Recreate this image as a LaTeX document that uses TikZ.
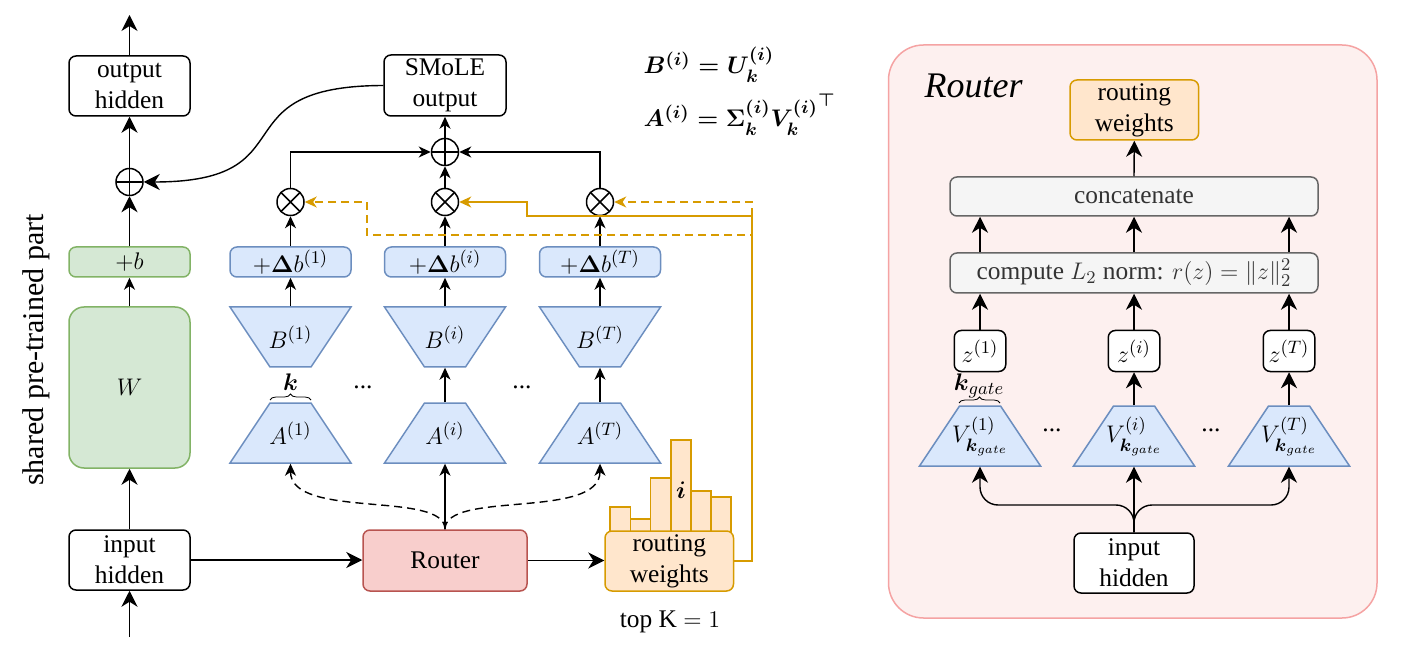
\documentclass[tikz,border=0pt]{standalone}
\usepackage[no-math]{fontspec}
\setmainfont{Liberation Serif}
\usepackage{amsmath,amssymb}
\usetikzlibrary{arrows.meta,decorations.pathreplacing,calc}
\definecolor{bfill}{HTML}{DAE8FC}
\definecolor{bdraw}{HTML}{6C8EBF}
\definecolor{gfill}{HTML}{D5E8D4}
\definecolor{gdraw}{HTML}{82B366}
\definecolor{rfill}{HTML}{F8CECC}
\definecolor{rdraw}{HTML}{B85450}
\definecolor{ofill}{HTML}{FFE6CC}
\definecolor{odraw}{HTML}{D79B00}
\definecolor{grfill}{HTML}{F5F5F5}
\definecolor{grdraw}{HTML}{666666}
\definecolor{grtext}{HTML}{333333}
\definecolor{pfill}{HTML}{FDF0EF}
\definecolor{pdraw}{HTML}{F5A3A3}
\begin{document}
\begin{tikzpicture}[x=0.5pt,y=-0.5pt, line width=0.7pt,
 font=\fontsize{12.7}{15.5}\selectfont,
 every node/.style={inner sep=1pt},
 wh/.style 2 args={minimum width=#1pt, minimum height=#2pt},
 box/.style={draw, rounded corners=3.5pt, line width=0.75pt, align=center, inner sep=0pt},
 wbox/.style={box, fill=white},
 gbox/.style={box, fill=gfill, draw=gdraw},
 bbox/.style={box, fill=bfill, draw=bdraw},
 rbox/.style={box, fill=rfill, draw=rdraw},
 obox/.style={box, fill=ofill, draw=odraw},
 grbox/.style={box, fill=grfill, draw=grdraw, text=grtext},
 circ/.style={circle, draw, fill=white, line width=0.75pt, minimum size=13.5pt, inner sep=0pt},
 oplus/.style={circ, path picture={\draw[line width=0.75pt] (path picture bounding box.north) -- (path picture bounding box.south) (path picture bounding box.west) -- (path picture bounding box.east);}},
 otimes/.style={circ, path picture={\draw[line width=0.75pt] (path picture bounding box.north west) -- (path picture bounding box.south east) (path picture bounding box.north east) -- (path picture bounding box.south west);}},
 trapshape/.style={fill=bfill, draw=bdraw, line width=0.75pt, line join=miter},
 tlabel/.style={minimum width=60.5pt, minimum height=30pt, inner sep=0pt},
 arrL/.style={-{Stealth[length=8pt,width=8pt,inset=2.5pt]}},
 arrS/.style={-{Stealth[length=6pt,width=5.5pt,inset=1.8pt]}},
 dsh/.style={dash pattern=on 4pt off 2.5pt},
 brc/.style={decorate, decoration={brace, amplitude=3pt}, line width=0.4pt},
]
\useasboundingbox (0,0) rectangle (1412,657);

% ---------------- left column ----------------
\coordinate (topout) at (129.5,15);
\coordinate (botin) at (129.5,637);
\node[wbox, wh={60.5}{30}] (outh) at (129.5,86) {output\\hidden};
\node[oplus] (opL) at (129.5,182) {};
\node[gbox, wh={60.5}{15}] (plusb) at (129.5,262) {$+b$};
\node[gbox, wh={60.5}{80.5}, rounded corners=7.5pt] (W) at (129.5,387.5) {$W$};
\node[wbox, wh={60.5}{30}] (inh) at (129.5,560) {input\\hidden};
\node[rotate=90, font=\fontsize{15}{18}\selectfont] (shared) at (36,350) {shared pre-trained part};

\draw[arrL] (outh.north) -- (topout);
\draw[arrL] (opL.north) -- (outh.south);
\draw[arrL] (plusb.north) -- (opL.south);
\draw[arrS] (W.north) -- (plusb.south);
\draw[arrL] (inh.north) -- (W.south);
\draw[arrL] (botin) -- (inh.south);

% ---------------- experts ----------------
\foreach \n/\x in {1/290.5, i/445, T/600} {
 \node[bbox, wh={60.5}{15}] (db\n) at (\x,262) {$+\boldsymbol{\Delta} b^{(\n)}$};
 \draw[trapshape] ({\x-60.5},307) -- ({\x+60.5},307) -- ({\x+20.5},367) -- ({\x-20.5},367) -- cycle;
 \node[tlabel] (B\n) at (\x,337) {$B^{(\n)}$};
 \draw[trapshape] ({\x-20.5},403) -- ({\x+20.5},403) -- ({\x+60.5},463) -- ({\x-60.5},463) -- cycle;
 \node[tlabel] (A\n) at (\x,433) {$A^{(\n)}$};
 \node[otimes] (ot\n) at (\x,202) {};
 \draw[arrS] (B\n.north) -- (db\n.south);
 \draw[arrS] (db\n.north) -- (ot\n.south);
}
\draw[arrS] (Ai.north) -- (Bi.south);
\draw[arrS] (AT.north) -- (BT.south);
\node (dots1) at (363,387) {...};
\node (dots2) at (522,387) {...};
\draw[brc] (270,400) -- (311,400);
\node (klab) at (290.5,382) {$\boldsymbol{k}$};

\node[oplus] (opM) at (445,152) {};
\node[wbox, wh={61}{30.5}] (smole) at (445,85.5) {SMoLE\\output};
\draw[arrS] (ot1.north) |- (opM.west);
\draw[arrS] (otT.north) |- (opM.east);
\draw[arrS] (oti.north) -- (opM.south);
\draw[arrS] (opM.north) -- (smole.south);
\draw[arrL] (smole.west) .. controls (215,86) and (312,182) .. (opL.east);

% ---------------- router and routing weights ----------------
\node[rbox, wh={82}{30.5}] (router) at (445,560.5) {Router};
\draw[arrL] (inh.east) -- (inh.east -| router.west);
\draw[arrS] (router.north) -- (Ai.south);
\draw[arrS, dsh] (router.north) .. controls (445,490) and (290.5,520) .. (A1.south);
\draw[arrS, dsh] (router.north) .. controls (445,490) and (600,520) .. (AT.south);

\foreach \a/\b/\t in {610/630.5/507, 630.5/650.5/519, 650.5/671/478, 671/691/440, 691/711/491, 711/731/497}
 \draw[fill=ofill, draw=odraw, line width=0.75pt] (\a,\t) rectangle (\b,540);
\node (ilab) at (681,490) {$\boldsymbol{i}$};
\node[obox, wh={64.25}{30}] (rw) at (669.25,561) {routing\\weights};
\draw[arrL] (router.east) -- (router.east -| rw.west);
\node (topk) at (670,622) {top K $=1$};

\coordinate (oc1) at (752,216);
\coordinate (oc2) at (527,216);
\coordinate (oc3) at (752,235);
\coordinate (oc4) at (367,235);
\draw[odraw, arrS] (rw.east) -| (oc1) -- (oc2) |- (oti.east);
\draw[odraw, arrS, dsh] (oc1) |- (otT.east);
\draw[odraw, arrS, dsh] (oc1) -- (oc3) -- (oc4) |- (ot1.east);

% formula
\node[anchor=base west, font=\fontsize{13}{15}\selectfont] (f1) at (641,74) {$\boldsymbol{B^{(i)} = U_k^{(i)}}$};
\node[anchor=base west, font=\fontsize{13}{15}\selectfont] (f2) at (641,127) {$\boldsymbol{A^{(i)} = \Sigma_k^{(i)} {V_k^{(i)}}^{\top}}$};

% ---------------- Router panel ----------------
\node[draw=pdraw, fill=pfill, line width=0.75pt, rounded corners=17.5pt, minimum width=244.25pt, minimum height=286.5pt, inner sep=0pt] (panel) at (1132.75,331.5) {};
\node[anchor=base west, font=\fontsize{18}{20}\selectfont\itshape] (rtitle) at (922,98) {Router};
\node[obox, wh={64.3}{30}] (prw) at (1134.3,110) {routing\\weights};
\node[grbox, wh={184}{19.5}] (concat) at (1134,196.5) {concatenate};
\node[grbox, wh={184}{20}] (comp) at (1134,273) {compute $L_2$ norm: $r(z)=\|z\|_2^2$};
\foreach \n/\x in {1/980, i/1134, T/1289} {
 \node[wbox, wh={25.75}{20.5}] (z\n) at (\x,351) {$z^{(\n)}$};
 \draw[trapshape] ({\x-20.5},406) -- ({\x+20.5},406) -- ({\x+60.5},466) -- ({\x-60.5},466) -- cycle;
 \node[tlabel] (V\n) at (\x,436) {$V^{(\n)}_{\boldsymbol{k}_{gate}}$};
 \draw[arrL] (z\n.north) -- (z\n.north |- comp.south);
 \draw[arrL] (comp.north -| z\n) -- (concat.south -| z\n);
}
\draw[arrL] (concat.north) -- (prw.south);
\draw[arrL] (Vi.north) -- (zi.south);
\draw[arrL] (VT.north) -- (zT.south);
\node[wbox, wh={60}{30}] (pinh) at (1134,563) {input\\hidden};
\draw[arrL] (pinh.north) -- (Vi.south);
\draw[arrL, rounded corners=9pt] (pinh.north) -- (1134,505) -- (980,505) -- (V1.south);
\draw[arrL, rounded corners=9pt] (pinh.north) -- (1134,505) -- (1289,505) -- (VT.south);
\draw[brc] (959,403) -- (1000,403);
\node (kg) at (979,386) {$\boldsymbol{k}_{gate}$};
\node (pdots1) at (1052,430) {...};
\node (pdots2) at (1211,430) {...};
\end{tikzpicture}
\end{document}
